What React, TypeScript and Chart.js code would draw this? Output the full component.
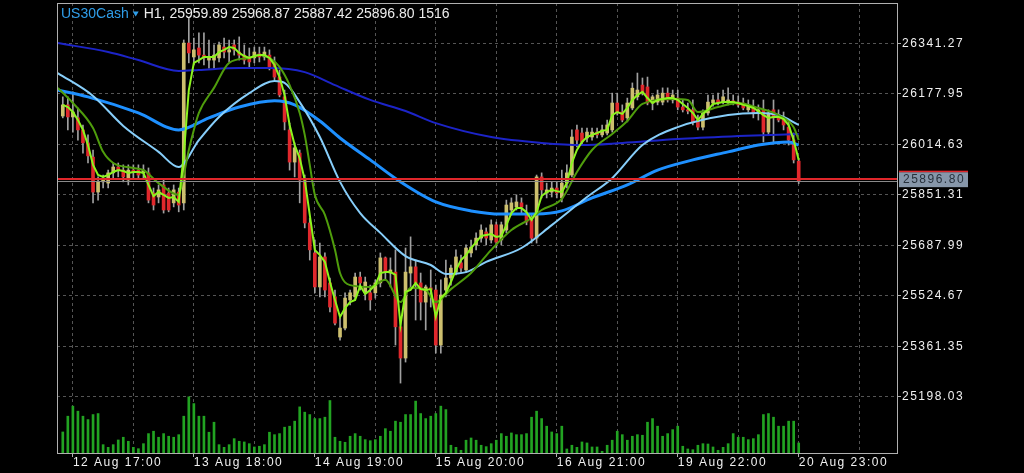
import React, { useEffect, useRef } from "react";
import { Chart, registerables } from "chart.js";

Chart.register(...registerables);

// ---------------- data ----------------
const symbolName = "US30Cash";
const timeframe = "H1";
const askPrice = 25901.6;
const priceMin = 25015.8;
const priceMax = 26471.6;
const volumeMax = 68000;
const barMin = -1.15;
const barMax = 165.7;

const xGridIdx = [2, 14, 26, 38, 50, 62, 74, 86, 98, 110, 122, 134, 146, 158];
const xLabelIdx = [2, 26, 50, 74, 98, 122, 146];
const xLabels = ["12 Aug 17:00", "13 Aug 18:00", "14 Aug 19:00", "15 Aug 20:00", "16 Aug 21:00", "19 Aug 22:00", "20 Aug 23:00"];
const yTicks = [26341.27, 26177.95, 26014.63, 25851.31, 25687.99, 25524.67, 25361.35, 25198.03];

const openP = [
  26106, 26142, 26103, 26100, 26061, 26019, 25973, 25860, 25893, 25889,
  25922, 25941, 25931, 25899, 25931, 25931, 25922, 25922, 25857, 25844,
  25883, 25857, 25825, 25860, 25825, 26342, 26297, 26326, 26303, 26287,
  26287, 26294, 26329, 26313, 26336, 26313, 26303, 26297, 26294, 26307,
  26297, 26303, 26278, 26232, 26168, 26061, 25957, 25986, 25899, 25760,
  25663, 25553, 25650, 25566, 25521, 25391, 25420, 25511, 25521, 25585,
  25534, 25534, 25534, 25566, 25647, 25598, 25601, 25424, 25323, 25598,
  25618, 25566, 25504, 25550, 25543, 25365, 25543, 25582, 25601, 25631,
  25608, 25663, 25689, 25711, 25731, 25705, 25754, 25705, 25737, 25802,
  25812, 25825, 25792, 25770, 25711, 25909, 25857, 25860, 25873, 25841,
  25889, 25915, 26061, 26051, 26035, 26038, 26054, 26045, 26051, 26061,
  26148, 26119, 26100, 26132, 26168, 26206, 26200, 26148, 26151, 26151,
  26180, 26158, 26164, 26135, 26126, 26126, 26093, 26070, 26116, 26148,
  26158, 26151, 26148, 26155, 26151, 26148, 26126, 26135, 26116, 26126,
  26054, 26126, 26103, 26100, 26070, 26028, 25959.89,
];

const highP = [
  26168, 26168, 26184, 26132, 26077, 26045, 25996, 25909, 25915, 25931,
  25954, 25954, 25948, 25948, 25948, 25948, 25948, 25938, 25873, 25883,
  25899, 25873, 25883, 25873, 26352, 26423, 26358, 26375, 26375, 26352,
  26336, 26345, 26358, 26352, 26352, 26362, 26336, 26326, 26329, 26329,
  26329, 26320, 26297, 26255, 26190, 26083, 26019, 25996, 25915, 25776,
  25705, 25695, 25663, 25582, 25543, 25453, 25534, 25543, 25598, 25601,
  25585, 25559, 25576, 25663, 25650, 25647, 25673, 25446, 25679, 25715,
  25640, 25598, 25559, 25608, 25559, 25576, 25640, 25624, 25673, 25656,
  25689, 25705, 25728, 25754, 25744, 25770, 25763, 25763, 25834, 25841,
  25851, 25841, 25818, 25786, 25915, 25922, 25889, 25893, 25893, 25931,
  25948, 26061, 26077, 26067, 26067, 26067, 26067, 26077, 26093, 26180,
  26180, 26142, 26164, 26213, 26245, 26229, 26232, 26174, 26190, 26197,
  26197, 26190, 26190, 26158, 26148, 26158, 26109, 26126, 26174, 26174,
  26180, 26190, 26197, 26174, 26171, 26164, 26158, 26158, 26142, 26158,
  26126, 26158, 26126, 26119, 26093, 26051, 25968.87,
];

const lowP = [
  26100, 26061, 26054, 26028, 25986, 25954, 25825, 25834, 25873, 25873,
  25906, 25909, 25893, 25883, 25906, 25906, 25906, 25825, 25802, 25825,
  25792, 25796, 25812, 25796, 25802, 26278, 26271, 26278, 26271, 26261,
  26261, 26281, 26294, 26281, 26303, 26287, 26274, 26265, 26278, 26281,
  26287, 26255, 26223, 26168, 26061, 25931, 25909, 25825, 25744, 25640,
  25534, 25521, 25521, 25472, 25430, 25381, 25414, 25495, 25511, 25543,
  25511, 25478, 25517, 25553, 25576, 25553, 25365, 25242, 25310, 25553,
  25446, 25446, 25414, 25488, 25339, 25339, 25521, 25559, 25592, 25601,
  25601, 25650, 25673, 25698, 25689, 25695, 25679, 25689, 25728, 25786,
  25802, 25792, 25754, 25695, 25695, 25841, 25841, 25844, 25841, 25828,
  25873, 25909, 26006, 26012, 26022, 26028, 26035, 26038, 26045, 26054,
  26109, 26087, 26087, 26126, 26158, 26174, 26142, 26126, 26142, 26142,
  26151, 26148, 26126, 26119, 26113, 26077, 26061, 26061, 26109, 26138,
  26142, 26145, 26142, 26142, 26135, 26126, 26119, 26100, 26093, 26022,
  26045, 26019, 26087, 26061, 26012, 25954, 25887.42,
];

const closeP = [
  26142, 26103, 26119, 26061, 26019, 25977, 25860, 25893, 25902, 25922,
  25941, 25931, 25909, 25931, 25925, 25915, 25931, 25834, 25818, 25867,
  25802, 25802, 25867, 25818, 26342, 26310, 26320, 26303, 26294, 26297,
  26303, 26336, 26313, 26320, 26320, 26303, 26287, 26281, 26313, 26297,
  26313, 26265, 26232, 26174, 26087, 25957, 26003, 25899, 25760, 25673,
  25553, 25650, 25543, 25488, 25436, 25420, 25517, 25534, 25585, 25566,
  25569, 25511, 25566, 25647, 25601, 25608, 25424, 25323, 25601, 25618,
  25566, 25504, 25553, 25543, 25365, 25527, 25582, 25614, 25650, 25614,
  25679, 25682, 25711, 25737, 25711, 25754, 25698, 25754, 25818, 25825,
  25828, 25812, 25763, 25711, 25909, 25867, 25867, 25873, 25857, 25889,
  25922, 26038, 26028, 26022, 26054, 26054, 26045, 26061, 26077, 26148,
  26116, 26093, 26148, 26196, 26190, 26180, 26148, 26168, 26174, 26180,
  26158, 26174, 26135, 26126, 26122, 26087, 26070, 26116, 26151, 26158,
  26148, 26168, 26158, 26151, 26142, 26132, 26142, 26116, 26126, 26054,
  26116, 26100, 26093, 26077, 26028, 25964, 25896.8,
];

const volumes = [
  3180, 5560, 7080, 6320, 5560, 5050, 5810, 5960, 1260, 860,
  1260, 1970, 2380, 1770, 860, 650, 1410, 2930, 3290, 2380,
  2930, 2530, 2380, 2770, 5560, 8490, 7470, 5560, 5560, 3140,
  4650, 1260, 860, 1260, 2170, 1770, 1670, 1410, 910, 1020,
  1260, 3140, 2770, 2930, 3900, 4050, 4810, 6970, 6170, 5810,
  5200, 5200, 5410, 7930, 2380, 1770, 1620, 2530, 2930, 2530,
  2020, 1860, 2020, 2530, 3680, 3290, 4810, 4650, 5810, 5810,
  7840, 5960, 5200, 5560, 5960, 7080, 6560, 1170, 860, 410,
  1930, 2270, 1930, 1170, 960, 1410, 1930, 2930, 2530, 3030,
  2770, 2770, 2930, 5410, 6320, 5200, 4050, 3180, 2930, 4050,
  610, 1170, 860, 1670, 1520, 910, 910, 260, 1170, 1930,
  3290, 2770, 1930, 2530, 2770, 2680, 4650, 5200, 4050, 2530,
  2930, 3530, 4050, 1020, 610, 500, 1170, 1410, 1360, 910,
  410, 860, 1410, 2930, 2380, 2380, 2020, 2170, 2770, 5810,
  5960, 5410, 4050, 4050, 4810, 4810, 1516,
];

// fast moving average (one value per bar)
const maFast = [
  26142, 26135, 26119, 26093, 26061, 26012, 25948, 25915, 25909, 25915,
  25925, 25931, 25928, 25922, 25925, 25925, 25922, 25883, 25847, 25860,
  25851, 25841, 25844, 25828, 25980, 26190, 26278, 26287, 26297, 26297,
  26297, 26313, 26320, 26329, 26326, 26310, 26300, 26294, 26300, 26303,
  26303, 26294, 26271, 26232, 26174, 26077, 26012, 25970, 25899, 25786,
  25673, 25656, 25634, 25569, 25511, 25456, 25485, 25504, 25511, 25556,
  25530, 25543, 25559, 25598, 25601, 25601, 25592, 25430, 25537, 25543,
  25566, 25546, 25543, 25546, 25456, 25517, 25534, 25569, 25608, 25640,
  25656, 25679, 25698, 25718, 25721, 25724, 25715, 25718, 25753, 25792,
  25808, 25808, 25795, 25770, 25795, 25847, 25860, 25867, 25863, 25860,
  25889, 25954, 25996, 26022, 26038, 26045, 26051, 26058, 26061, 26109,
  26119, 26113, 26132, 26158, 26174, 26184, 26164, 26148, 26158, 26161,
  26164, 26164, 26158, 26145, 26132, 26116, 26093, 26113, 26126, 26145,
  26148, 26151, 26151, 26151, 26148, 26142, 26138, 26132, 26122, 26109,
  26100, 26103, 26103, 26096, 26077, 26028, 25964,
];

// slower averages, read at sampled bars
const maMidIdx = [-1, 2, 6, 8, 10, 14, 16, 19, 23, 24, 25, 26, 27, 30, 33, 37, 39, 41, 43, 45, 47, 48, 49, 50, 52, 54, 55, 57, 61, 64, 67, 69, 72, 74, 77, 81, 85, 89, 93, 95, 99, 102, 105, 109, 112, 115, 121, 124, 126, 130, 134, 138, 142, 145, 146];
const maMidVal = [26197, 26148, 26067, 25990, 25954, 25938, 25931, 25889, 25851, 25915, 25996, 26061, 26116, 26197, 26278, 26294, 26303, 26294, 26265, 26206, 26116, 26045, 25948, 25851, 25786, 25673, 25598, 25559, 25553, 25576, 25504, 25550, 25543, 25504, 25546, 25598, 25673, 25737, 25776, 25802, 25838, 25925, 25996, 26048, 26090, 26145, 26161, 26158, 26119, 26135, 26148, 26132, 26109, 26070, 26028];

const maLightIdx = [-1, 6, 12, 19, 23, 27, 31, 37, 42, 44, 47, 51, 55, 59, 63, 68, 73, 76, 80, 84, 91, 97, 104, 109, 115, 122, 132, 138, 142, 146];
const maLightVal = [26245, 26171, 26074, 25990, 25941, 26028, 26103, 26180, 26219, 26213, 26151, 26038, 25893, 25792, 25728, 25653, 25624, 25595, 25601, 25634, 25679, 25753, 25844, 25905, 26012, 26070, 26109, 26116, 26109, 26077];

const maBlueIdx = [-1, 5, 15, 23, 29, 35, 42, 46, 51, 55, 61, 67, 74, 81, 87, 94, 99, 105, 112, 118, 125, 132, 138, 144, 146];
const maBlueVal = [26190, 26168, 26116, 26061, 26100, 26135, 26155, 26142, 26090, 26035, 25964, 25893, 25828, 25799, 25789, 25789, 25799, 25841, 25883, 25931, 25964, 25990, 26012, 26022, 26012];

const maSlowIdx = [-1, 9, 15, 23, 27, 35, 41, 48, 54, 61, 68, 74, 85, 95, 103, 111, 122, 134, 146];
const maSlowVal = [26342, 26313, 26287, 26252, 26255, 26261, 26261, 26248, 26206, 26158, 26122, 26083, 26038, 26019, 26012, 26019, 26032, 26041, 26048];

// ---------------- styles ----------------
const FONT = '"Liberation Sans", Arial, Helvetica, sans-serif';
const BULL = "#cdbf6e";
const BEAR = "#e0282c";
const WICK = "#a0a0a0";
const VOL = "#22a322";
const GRID = "#555555";
const FRAME = "#b0b0b0";
const AXIS_TEXT = "#f0f0f0";
const SPACING = "1.5px";

const pts = (idx: number[], vals: number[]) => idx.map((x, k) => ({ x, y: vals[k] }));

const overlayPlugin = {
  id: "mtOverlay",
  beforeDraw(chart: any) {
    const ctx = chart.ctx;
    ctx.save();
    ctx.fillStyle = "#000";
    ctx.fillRect(0, 0, chart.width, chart.height);
    ctx.restore();
    try { (ctx as any).letterSpacing = SPACING; } catch (e) {}
  },
  afterDatasetsDraw(chart: any) {
    const ctx = chart.ctx;
    const { left, right, top, bottom } = chart.chartArea;
    const ys = chart.scales.y;
    const last = closeP.length - 1;
    ctx.save();
    // bid line (gray) and ask line (red)
    const yb = Math.round(ys.getPixelForValue(closeP[last])) + 0.5;
    const ya = Math.round(ys.getPixelForValue(askPrice));
    ctx.lineWidth = 1;
    ctx.strokeStyle = "#8a8a8a";
    ctx.beginPath(); ctx.moveTo(left, yb); ctx.lineTo(right, yb); ctx.stroke();
    ctx.lineWidth = 2;
    ctx.strokeStyle = "#e0262a";
    ctx.beginPath(); ctx.moveTo(left, ya); ctx.lineTo(right, ya); ctx.stroke();
    // frame
    ctx.lineWidth = 1;
    ctx.strokeStyle = FRAME;
    ctx.strokeRect(left + 0.5, top + 0.5, right - left - 1, bottom - top);
    ctx.restore();
  },
  afterDraw(chart: any) {
    const ctx = chart.ctx;
    const { right } = chart.chartArea;
    const ys = chart.scales.y;
    const last = closeP.length - 1;
    ctx.save();
    // price label box
    const yb = ys.getPixelForValue(closeP[last]);
    ctx.fillStyle = "#8797aa";
    ctx.fillRect(right + 1, yb - 8.5, 69, 15);
    ctx.fillStyle = "#e0262a";
    ctx.fillRect(right + 1, yb - 10, 69, 1.5);
    try { (ctx as any).letterSpacing = SPACING; } catch (e) {}
    ctx.font = `12px ${FONT}`;
    ctx.textBaseline = "middle";
    ctx.textAlign = "left";
    ctx.fillStyle = "#27313c";
    ctx.fillText(closeP[last].toFixed(2), right + 5, yb - 0.5);
    // title
    try { (ctx as any).letterSpacing = "0px"; } catch (e) {}
    ctx.font = `14px ${FONT}`;
    ctx.textBaseline = "alphabetic";
    ctx.fillStyle = "#2f9de8";
    const x0 = 61;
    ctx.fillText(symbolName, x0, 17.5);
    let x = x0 + ctx.measureText(symbolName).width + 4;
    ctx.beginPath();
    ctx.moveTo(x, 11.5); ctx.lineTo(x + 6, 11.5); ctx.lineTo(x + 3, 16.5); ctx.closePath(); ctx.fill();
    x += 11;
    ctx.fillStyle = "#ececec";
    const rest = `${timeframe}, ${openP[last].toFixed(2)} ${highP[last].toFixed(2)} ${lowP[last].toFixed(2)} ${closeP[last].toFixed(2)} ${volumes[last]}`;
    ctx.fillText(rest, x, 17.5);
    ctx.restore();
  },
};

export default function App() {
  const ref = useRef<HTMLCanvasElement | null>(null);

  useEffect(() => {
    const canvas = ref.current;
    if (!canvas) return;
    const bodyColors = openP.map((o, i) => (closeP[i] >= o ? BULL : BEAR));
    const lineBase = { type: "line", pointRadius: 0, pointHoverRadius: 0, fill: false, yAxisID: "y", xAxisID: "x" };

    const chart = new Chart(canvas, {
      type: "bar",
      data: {
        datasets: [
          { ...lineBase, label: "fast", data: maFast.map((v, i) => ({ x: i, y: v })), borderColor: "#8cf51e", borderWidth: 2, tension: 0, order: 1 },
          { ...lineBase, label: "mid", data: pts(maMidIdx, maMidVal), borderColor: "#4f9d0c", borderWidth: 2, cubicInterpolationMode: "monotone", order: 2 },
          { ...lineBase, label: "light", data: pts(maLightIdx, maLightVal), borderColor: "#87cefa", borderWidth: 2, cubicInterpolationMode: "monotone", order: 3 },
          { ...lineBase, label: "blue", data: pts(maBlueIdx, maBlueVal), borderColor: "#1e90ff", borderWidth: 3, cubicInterpolationMode: "monotone", order: 4 },
          { ...lineBase, label: "slow", data: pts(maSlowIdx, maSlowVal), borderColor: "#1c24c8", borderWidth: 2, cubicInterpolationMode: "monotone", order: 5 },
          { type: "bar", label: "body", data: openP.map((o, i) => ({ x: i, y: [o, closeP[i]] })), backgroundColor: bodyColors, borderWidth: 0, barThickness: 3, minBarLength: 1, grouped: false, yAxisID: "y", order: 6 },
          { type: "bar", label: "wick", data: lowP.map((l, i) => ({ x: i, y: [l, highP[i]] })), backgroundColor: WICK, borderWidth: 0, barThickness: 1, grouped: false, yAxisID: "y", order: 7 },
          { type: "bar", label: "volume", data: volumes.map((v, i) => ({ x: i, y: v })), backgroundColor: VOL, borderWidth: 0, barThickness: 2, grouped: false, yAxisID: "yv", order: 8 },
        ] as any,
      },
      options: {
        responsive: false,
        maintainAspectRatio: false,
        devicePixelRatio: 1,
        animation: false,
        events: [],
        layout: { padding: { left: 57, top: 3, right: 0, bottom: 0 } },
        plugins: { legend: { display: false }, tooltip: { enabled: false } },
        scales: {
          x: {
            type: "linear",
            position: "bottom",
            min: barMin,
            max: barMax,
            bounds: "data",
            offset: false,
            afterBuildTicks: (s: any) => { s.ticks = xGridIdx.map((v) => ({ value: v })); },
            afterFit: (s: any) => { s.height = 20; s.paddingLeft = 0; s.paddingRight = 0; s.paddingTop = 0; s.paddingBottom = 0; },
            ticks: {
              autoSkip: false,
              maxRotation: 0,
              minRotation: 0,
              align: "start",
              padding: -2,
              color: AXIS_TEXT,
              font: { family: FONT, size: 12 },
              callback: (v: any) => { const k = xLabelIdx.indexOf(Number(v)); return k >= 0 ? xLabels[k] : ""; },
            },
            grid: {
              offset: false,
              color: GRID,
              lineWidth: 1,
              drawTicks: true,
              tickLength: 4,
              tickColor: (c: any) => (c.tick && xLabelIdx.includes(c.tick.value) ? FRAME : "rgba(0,0,0,0)"),
            },
            border: { display: false, dash: [3, 3] },
          },
          y: {
            type: "linear",
            position: "right",
            min: priceMin,
            max: priceMax,
            bounds: "data",
            afterBuildTicks: (s: any) => { s.ticks = yTicks.map((v) => ({ value: v })); },
            afterFit: (s: any) => { s.width = 126; s.paddingTop = 0; s.paddingBottom = 0; s.paddingLeft = 0; s.paddingRight = 0; },
            ticks: {
              autoSkip: false,
              padding: 1,
              color: AXIS_TEXT,
              font: { family: FONT, size: 12 },
              callback: (v: any) => Number(v).toFixed(2),
            },
            grid: { color: GRID, lineWidth: 1, drawTicks: true, tickLength: 3, tickColor: FRAME },
            border: { display: false, dash: [3, 3] },
          },
          yv: {
            type: "linear",
            position: "right",
            display: false,
            min: 0,
            max: volumeMax,
            grid: { display: false },
            afterFit: (s: any) => { s.width = 0; s.paddingTop = 0; s.paddingBottom = 0; },
          },
        },
      } as any,
      plugins: [overlayPlugin as any],
    });

    return () => chart.destroy();
  }, []);

  return (
    <div style={{ position: "fixed", left: 0, top: 0, width: 1024, height: 473, background: "#000", overflow: "hidden" }}>
      <canvas ref={ref} width={1024} height={473} style={{ display: "block", width: 1024, height: 473 }} />
    </div>
  );
}
